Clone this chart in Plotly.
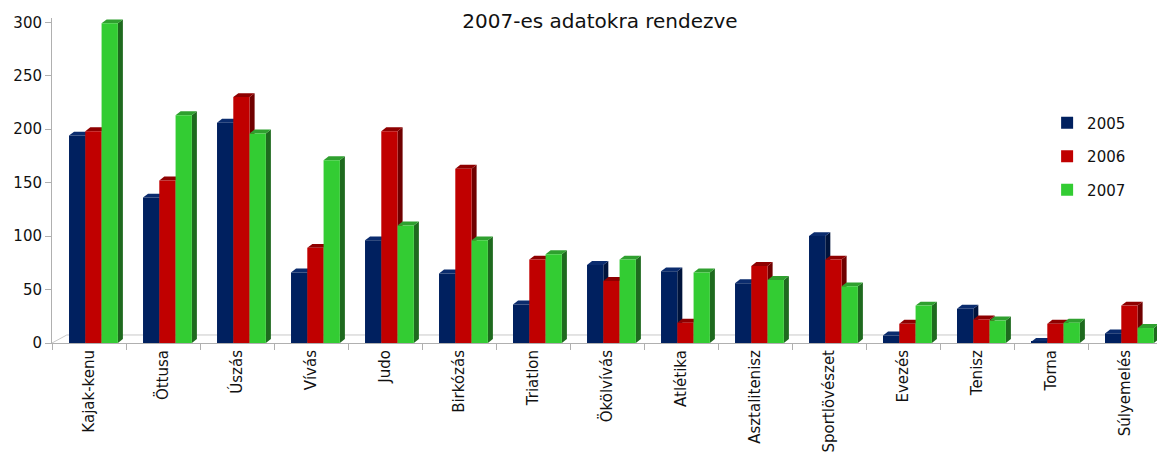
import plotly.graph_objects as go

categories = ["Kajak-kenu", "Öttusa", "Úszás", "Vívás", "Judo", "Birkózás", "Triatlon",
              "Ökölvívás", "Atlétika", "Asztalitenisz", "Sportlövészet", "Evezés",
              "Tenisz", "Torna", "Súlyemelés"]
years = ["2005", "2006", "2007"]
v2005 = [194, 136, 206, 66, 96, 65, 36, 73, 67, 56, 100, 7, 32, 1, 9]
v2006 = [198, 152, 230, 89, 198, 163, 78, 58, 19, 72, 78, 18, 22, 18, 35]
v2007 = [299, 213, 196, 171, 110, 96, 83, 78, 66, 59, 53, 35, 21, 19, 14]
yticks = [0, 50, 100, 150, 200, 250, 300]

series = [v2005, v2006, v2007]
front = ["#00205F", "#C00000", "#33CC33"]
side = ["#00143C", "#700000", "#1E6A1E"]
top = ["#0B2C6E", "#8E0000", "#2FA02F"]

FONT = "DejaVu Sans"
W = 0.22
offsets = [-0.27, -0.05, 0.17]
DX = 0.068
DY = 3.7

x = list(range(len(categories)))
fig = go.Figure()
shapes = []
for k, vals in enumerate(series):
    fig.add_trace(go.Bar(
        x=x, y=vals, name=years[k], width=W, offset=offsets[k],
        marker=dict(color=front[k], line=dict(width=0)),
        legendgroup=years[k],
    ))
    for i, v in enumerate(vals):
        xl = i + offsets[k]
        xr = xl + W
        shapes.append(dict(
            type="path", xref="x", yref="y", layer="below",
            path=f"M{xr},0 L{xr+DX},{DY} L{xr+DX},{v+DY} L{xr},{v} Z",
            fillcolor=side[k], line=dict(width=0)))
        shapes.append(dict(
            type="path", xref="x", yref="y", layer="below",
            path=f"M{xl},{v} L{xl+DX},{v+DY} L{xr+DX},{v+DY} L{xr},{v} Z",
            fillcolor=top[k], line=dict(width=0)))

# floor
shapes.insert(0, dict(type="line", xref="x", yref="y", layer="below",
                      x0=-0.5, y0=0, x1=-0.3, y1=7.5,
                      line=dict(color="#c8c8c8", width=1)))
shapes.insert(0, dict(type="line", xref="x", yref="y", layer="below",
                      x0=-0.3, y0=7.5, x1=14.5, y1=7.5,
                      line=dict(color="#c8c8c8", width=1)))

# the page body has an 8px margin, so the figure is sized/offset to compensate
fig.update_layout(
    width=1157, height=452,
    margin=dict(l=44, r=3, t=10, b=117, autoexpand=False),
    paper_bgcolor="white", plot_bgcolor="white",
    barmode="overlay",
    shapes=shapes,
    title=dict(text="2007-es adatokra rendezve", x=592/1157, xref="container", xanchor="center",
               y=1 - 6/452, yref="container", yanchor="top", pad=dict(t=0, b=0, l=0, r=0),
               font=dict(family=FONT, size=20, color="#111")),
    legend=dict(x=0.8965, y=0.7274, xanchor="left", yanchor="top",
                font=dict(family=FONT, size=15, color="#111"),
                tracegroupgap=11, traceorder="grouped", bgcolor="rgba(0,0,0,0)"),
    xaxis=dict(range=[-0.5, 14.5], tickmode="array", tickvals=x, ticktext=categories,
               tickangle=-90, ticks="", showgrid=False, zeroline=False, automargin=False,
               showline=True, linecolor="#b0b0b0", linewidth=1,
               tickfont=dict(family=FONT, size=15, color="#111"),
               minor=dict(tickmode="array", tickvals=[i - 0.5 for i in range(16)],
                          ticks="outside", ticklen=6, tickcolor="#b0b0b0", showgrid=False)),
    yaxis=dict(range=[0, 304], tickmode="array", tickvals=yticks, ticks="outside",
               ticklen=6, tickcolor="#b0b0b0", showgrid=False, zeroline=False, automargin=False,
               showline=True, linecolor="#b0b0b0", linewidth=1,
               tickfont=dict(family=FONT, size=15, color="#111")),
)

fig.write_html("out.html")
